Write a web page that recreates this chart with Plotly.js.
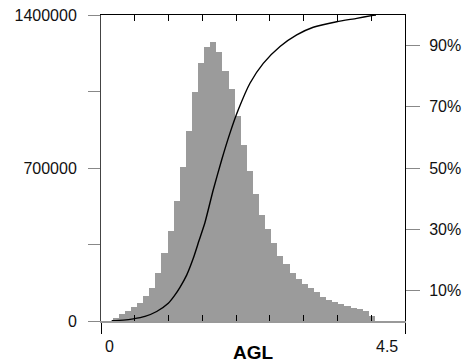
<!DOCTYPE html>
<html>
<head>
<meta charset="utf-8">
<script src="https://cdn.plot.ly/plotly-3.0.1.min.js"></script>
<style>html,body{margin:0;padding:0;background:#fff;}#chart{width:467px;height:363px;}</style>
</head>
<body>
<div id="chart"></div>
<script>
// Histogram bins (centres) and counts
var binCenters = [0.217,0.308,0.398,0.488,0.578,0.669,0.759,0.849,0.940,1.030,
  1.120,1.211,1.301,1.391,1.481,1.572,1.662,1.752,1.843,1.933,
  2.023,2.113,2.204,2.294,2.384,2.475,2.565,2.655,2.746,2.836,
  2.926,3.016,3.107,3.197,3.287,3.378,3.468,3.558,3.648,3.739,
  3.829,3.919,4.010];
var binWidth = 0.0906;
var counts = [12000,30000,46000,62000,84000,114000,152000,221000,309000,411000,
  548000,703000,870000,1050000,1180000,1253000,1275000,1230000,1146000,1061000,
  939000,807000,688000,583000,484000,419000,355000,299000,260000,221000,
  190000,168000,152000,132000,111000,96000,85000,76000,68000,60000,
  53000,46000,23000];

// Cumulative distribution curve
var cdfX = [0.158,0.330,0.478,0.651,0.824,0.996,1.085,1.169,1.268,1.366,1.450,1.539,1.662,1.787,1.909,2.032,2.205,2.402,2.650,2.897,3.142,3.489,3.785,4.007,4.070];
var cdfY = [0.001,0.003,0.007,0.015,0.031,0.058,0.082,0.110,0.150,0.205,0.262,0.322,0.429,0.527,0.614,0.690,0.777,0.842,0.897,0.935,0.960,0.978,0.989,0.998,1.0];

// Axis ticks and labels
var xRange = [0, 4.5];
var xOuterTicks = [0, 4.5];
var xInnerTicks = [0.5,1.0,1.5,2.0,2.5,3.0,3.5,4.0];
var xLabelVals = [0, 4.5];
var xLabelText = ['0', '4.5'];
var xTitle = 'AGL';
var yLeftTicks = [0, 350000, 700000, 1050000, 1400000];
var yLeftText = ['0', '', '700000', '', '1400000'];
var yRightTicks = [0.1, 0.3, 0.5, 0.7, 0.9];
var yRightText = ['10%', '30%', '50%', '70%', '90%'];

var FONT = 'Liberation Sans, Arial, Helvetica, sans-serif';

var traces = [
  {type:'bar', x:binCenters, y:counts, width:binWidth, xaxis:'x', yaxis:'y',
   marker:{color:'#9b9b9b', line:{width:0}}, hoverinfo:'x+y'},
  {type:'scatter', mode:'lines', x:cdfX, y:cdfY, xaxis:'x2', yaxis:'y2',
   line:{color:'#000', width:1.4, shape:'spline', smoothing:0.6}},
  {type:'scatter', mode:'none', x:[], y:[], xaxis:'x3', yaxis:'y', showlegend:false, hoverinfo:'skip'}
];

var annotations = xLabelVals.map(function(v, i){
  return {x:v, xref:'x', y:0, yref:'paper', yanchor:'top', xanchor:'center',
          xshift: i === 0 ? 8 : -18, yshift:-15, showarrow:false,
          text:xLabelText[i], font:{family:FONT, size:16, color:'#111'}};
});

var layout = {
  width:467, height:363,
  margin:{l:101, r:62, t:15, b:42},
  paper_bgcolor:'#fff', plot_bgcolor:'#fff',
  showlegend:false, bargap:0,
  font:{family:FONT, size:16, color:'#111'},
  xaxis:{range:xRange, tickvals:xOuterTicks, ticks:'outside', ticklen:11, tickcolor:'#000', tickwidth:1,
         showticklabels:false, showgrid:false, zeroline:false,
         showline:true, linecolor:'#999', linewidth:1.5,
         title:{text:'<b>'+xTitle+'</b>', font:{family:FONT, size:19, color:'#000'}, standoff:14}},
  xaxis2:{range:xRange, overlaying:'x', side:'top', anchor:'y2', tickvals:xInnerTicks, ticks:'inside', ticklen:6,
          tickcolor:'#000', showticklabels:false, showgrid:false, zeroline:false,
          showline:true, linecolor:'#000', linewidth:1},
  xaxis3:{range:xRange, overlaying:'x', side:'bottom', anchor:'y', tickvals:xInnerTicks, ticks:'inside', ticklen:6,
          tickcolor:'#000', showticklabels:false, showgrid:false, zeroline:false, showline:false},
  yaxis:{range:[0,1400000], tickvals:yLeftTicks, ticktext:yLeftText, ticks:'outside', ticklen:12,
         tickcolor:'#888', showgrid:false, zeroline:false, showline:true, linecolor:'#444', linewidth:1,
         tickfont:{family:FONT, size:16, color:'#111'}, ticklabelstandoff:8},
  yaxis2:{range:[0,1], overlaying:'y', side:'right', anchor:'x', tickvals:yRightTicks, ticktext:yRightText,
          ticks:'outside', ticklen:14, tickcolor:'#888', showgrid:false, zeroline:false,
          showline:true, linecolor:'#000', linewidth:1,
          tickfont:{family:FONT, size:16, color:'#111'}, ticklabelstandoff:6},
  annotations:annotations
};

Plotly.newPlot('chart', traces, layout, {displayModeBar:false, staticPlot:true});
</script>
</body>
</html>
